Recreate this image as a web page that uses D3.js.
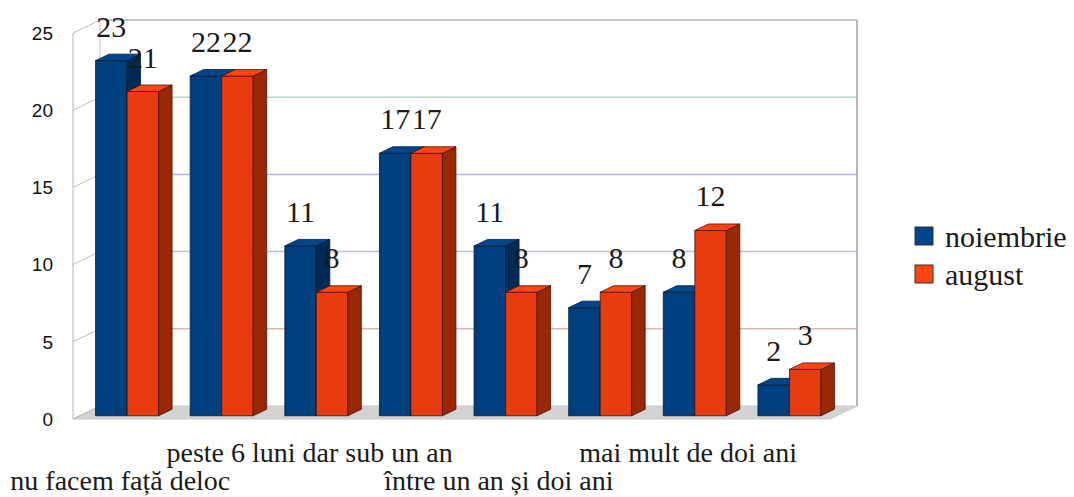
<!DOCTYPE html>
<html>
<head>
<meta charset="utf-8">
<script src="https://cdn.jsdelivr.net/npm/d3@7"></script>
<style>
  body { margin: 0; background: #fff; }
  svg { display: block; }
</style>
</head>
<body>
<div id="chart"></div>
<script>
// data
var categories = ["nu facem față deloc", "", "peste 6 luni dar sub un an", "",
                  "între un an și doi ani", "", "mai mult de doi ani", ""];
var series = ["noiembrie", "august"];
var noiembrie = [23, 22, 11, 17, 11, 7, 8, 2];
var august = [21, 22, 8, 17, 8, 8, 12, 3];
var yTicks = [0, 5, 10, 15, 20, 25];

var width = 1074, height = 497;
var plotLeft = 73, plotRight = 830, plotBottom = 419, plotTop = 33;
var depth = {x: 27, y: -13};          // wall depth offset
var f0 = 0.25, f1 = 0.75;             // bar front/back as fraction of depth

var gridColors = {5: "#dbb9b2", 10: "#c2bad9", 15: "#b9b0e2", 20: "#b2d3c3", 25: "#b5b5b5"};
var colors = {
    noiembrie: {front: "#003f7e", top: "#00468c", side: "#002a55", stroke: "#001a35"},
    august: {front: "#e63c0f", top: "#ff4511", side: "#982808", stroke: "#4a1204"}
};

var values = {noiembrie: noiembrie, august: august};

var x0 = d3.scaleBand().domain(d3.range(categories.length)).range([plotLeft, plotRight]);
var bw = x0.bandwidth();
var x1 = d3.scaleBand().domain(series).range([bw * 0.167, bw * 0.833]);
var y = d3.scaleLinear().domain([0, 25]).range([plotBottom, plotTop]);

var svg = d3.select("#chart").append("svg")
    .attr("width", width)
    .attr("height", height);

// floor
svg.append("polygon")
    .attr("points", [[plotLeft, plotBottom], [plotRight, plotBottom], [plotRight + depth.x, plotBottom + depth.y], [plotLeft + depth.x, plotBottom + depth.y]].join(" "))
    .attr("fill", "#d3d3d3")
    .attr("stroke", "#c8c8c8")
    .attr("stroke-width", 1);

// back wall grid lines
svg.selectAll(".grid")
    .data(yTicks.filter(function (d) { return d > 0; }))
    .enter().append("line")
    .attr("x1", plotLeft + depth.x)
    .attr("x2", plotRight + depth.x)
    .attr("y1", function (d) { return y(d) + depth.y; })
    .attr("y2", function (d) { return y(d) + depth.y; })
    .attr("stroke", function (d) { return gridColors[d]; })
    .attr("stroke-width", 1.5);

// left wall slanted lines
svg.selectAll(".lgrid")
    .data(yTicks.filter(function (d) { return d > 0; }))
    .enter().append("line")
    .attr("x1", plotLeft)
    .attr("x2", plotLeft + depth.x)
    .attr("y1", function (d) { return y(d); })
    .attr("y2", function (d) { return y(d) + depth.y; })
    .attr("stroke", "#bdbdbd")
    .attr("stroke-width", 1);

// wall edges
svg.append("line")
    .attr("x1", plotLeft + depth.x).attr("x2", plotLeft + depth.x)
    .attr("y1", y(25) + depth.y).attr("y2", plotBottom + depth.y)
    .attr("stroke", "#c4c4c4");
svg.append("line")
    .attr("x1", plotRight + depth.x).attr("x2", plotRight + depth.x)
    .attr("y1", y(25) + depth.y).attr("y2", plotBottom + depth.y)
    .attr("stroke", "#a0a0a0").attr("stroke-width", 1.5);
svg.append("line")
    .attr("x1", plotLeft).attr("x2", plotLeft)
    .attr("y1", y(25)).attr("y2", plotBottom)
    .attr("stroke", "#b5b5b5");
svg.append("line")
    .attr("x1", plotLeft).attr("x2", plotLeft + depth.x)
    .attr("y1", plotBottom).attr("y2", plotBottom + depth.y)
    .attr("stroke", "#b5b5b5");

// y tick labels
svg.selectAll(".ytick")
    .data(yTicks)
    .enter().append("text")
    .attr("x", plotLeft - 20)
    .attr("y", function (d) { return y(d); })
    .attr("dy", "0.36em")
    .attr("text-anchor", "end")
    .style("font-family", "'Liberation Sans', Arial, sans-serif")
    .style("font-size", "19px")
    .attr("fill", "#111")
    .text(function (d) { return d; });

// bars, drawn left to right
var dfx = depth.x * f0, dfy = depth.y * f0;
var ddx = depth.x * (f1 - f0), ddy = depth.y * (f1 - f0);

var bars = [];
categories.forEach(function (c, i) {
    series.forEach(function (s) {
        bars.push({i: i, s: s, v: values[s][i]});
    });
});

var g = svg.append("g");
bars.forEach(function (d) {
    var xl = x0(d.i) + x1(d.s) + dfx;
    var xr = xl + x1.bandwidth();
    var yt = y(d.v) + dfy;
    var yb = y(0) + dfy;
    var c = colors[d.s];
    // front
    g.append("polygon")
        .attr("points", [[xl, yt], [xr, yt], [xr, yb], [xl, yb]].join(" "))
        .attr("fill", c.front).attr("stroke", c.stroke).attr("stroke-width", 0.8);
    // side
    g.append("polygon")
        .attr("points", [[xr, yt], [xr + ddx, yt + ddy], [xr + ddx, yb + ddy], [xr, yb]].join(" "))
        .attr("fill", c.side).attr("stroke", c.stroke).attr("stroke-width", 0.8);
    // top
    g.append("polygon")
        .attr("points", [[xl, yt], [xl + ddx, yt + ddy], [xr + ddx, yt + ddy], [xr, yt]].join(" "))
        .attr("fill", c.top).attr("stroke", c.stroke).attr("stroke-width", 0.8);
});

// value labels
svg.selectAll(".val")
    .data(bars)
    .enter().append("text")
    .attr("x", function (d) { return x0(d.i) + x1(d.s) + dfx + x1.bandwidth() / 2; })
    .attr("y", function (d) { return y(d.v) + dfy - 24; })
    .attr("text-anchor", "middle")
    .style("font-family", "'Liberation Serif', 'Times New Roman', serif")
    .style("font-size", "30px")
    .attr("fill", "#1a1a1a")
    .text(function (d) { return d.v; });

// category labels, staggered
svg.selectAll(".cat")
    .data(categories.map(function (c, i) { return {c: c, i: i}; }).filter(function (d) { return d.c !== ""; }))
    .enter().append("text")
    .attr("x", function (d) { return x0(d.i) + bw / 2; })
    .attr("y", function (d) { return (d.i / 2) % 2 === 0 ? 490 : 462; })
    .attr("text-anchor", "middle")
    .style("font-family", "'Liberation Serif', 'Times New Roman', serif")
    .style("font-size", "28px")
    .attr("fill", "#1a1a1a")
    .text(function (d) { return d.c; });

// legend
var legend = svg.selectAll(".legend")
    .data(series)
    .enter().append("g")
    .attr("transform", function (d, i) { return "translate(915," + (227 + i * 38) + ")"; });
legend.append("rect")
    .attr("width", 18).attr("height", 18)
    .attr("fill", function (d) { return colors[d].top; })
    .attr("stroke", "#333").attr("stroke-width", 1);
legend.append("text")
    .attr("x", 30)
    .attr("y", 9)
    .attr("dy", "0.36em")
    .style("font-family", "'Liberation Serif', 'Times New Roman', serif")
    .style("font-size", "30px")
    .attr("fill", "#1a1a1a")
    .text(function (d) { return d; });
</script>
</body>
</html>
